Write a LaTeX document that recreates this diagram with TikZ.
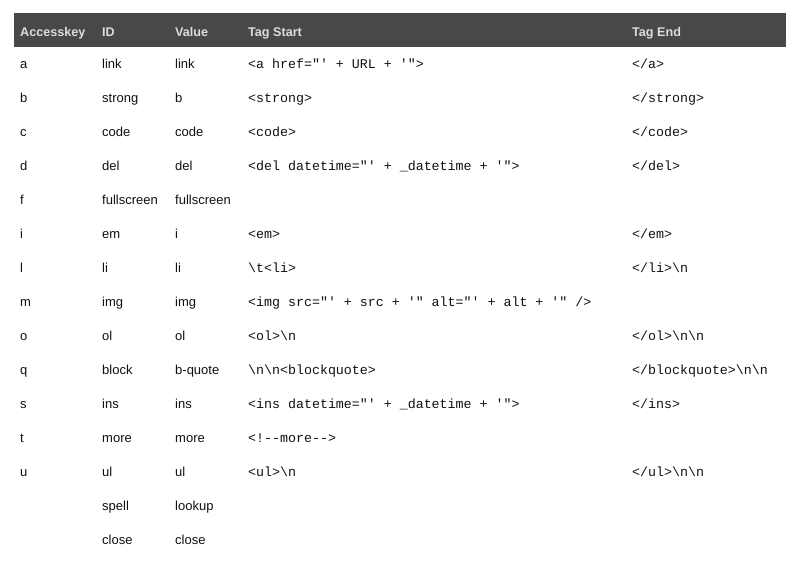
\documentclass[tikz,border=0pt]{standalone}
\usepackage{fontspec}
\setmainfont{Liberation Sans}
\setsansfont{Liberation Sans}
\setmonofont{Liberation Mono}
\definecolor{barcol}{HTML}{484848}
\definecolor{headtxt}{HTML}{DCDCDC}
\definecolor{bodytxt}{HTML}{111111}
\tikzset{
  hdr/.style={anchor=base west, inner sep=0pt, text=headtxt, font=\fontsize{12.6}{14}\selectfont\bfseries},
  cell/.style={anchor=base west, inner sep=0pt, text=bodytxt, font=\fontsize{13}{15}\selectfont},
  code/.style={anchor=base west, inner sep=0pt, text=bodytxt, font=\fontsize{13.3}{15}\selectfont\ttfamily},
}
\newcommand{\bs}{\textbackslash}
\begin{document}
\begin{tikzpicture}[x=1pt,y=-1pt]
\useasboundingbox (0,0) rectangle (801,562);
\fill[white] (0,0) rectangle (801,562);
\fill[barcol] (14,13) rectangle (786,47);
\node[hdr] (h1) at (20,36) {Accesskey};
\node[hdr] (h2) at (102,36) {ID};
\node[hdr] (h3) at (175,36) {Value};
\node[hdr] (h4) at (248,36) {Tag Start};
\node[hdr] (h5) at (632,36) {Tag End};
% row a
\node[cell] (ka) at (20,68) {a};
\node[cell] (ia) at (102,68) {link};
\node[cell] (va) at (175,68) {link};
\node[code] (sa) at (248,68) {<a href="' + URL + '">};
\node[code] (ea) at (632,68) {</a>};
% row b
\node[cell] (kb) at (20,102) {b};
\node[cell] (ib) at (102,102) {strong};
\node[cell] (vb) at (175,102) {b};
\node[code] (sb) at (248,102) {<strong>};
\node[code] (eb) at (632,102) {</strong>};
% row c
\node[cell] (kc) at (20,136) {c};
\node[cell] (ic) at (102,136) {code};
\node[cell] (vc) at (175,136) {code};
\node[code] (sc) at (248,136) {<code>};
\node[code] (ec) at (632,136) {</code>};
% row d
\node[cell] (kd) at (20,170) {d};
\node[cell] (id) at (102,170) {del};
\node[cell] (vd) at (175,170) {del};
\node[code] (sd) at (248,170) {<del datetime="' + \_datetime + '">};
\node[code] (ed) at (632,170) {</del>};
% row f
\node[cell] (kf) at (20,204) {f};
\node[cell] (if) at (102,204) {fullscreen};
\node[cell] (vf) at (175,204) {fullscreen};
% row i
\node[cell] (ki) at (20,238) {i};
\node[cell] (ii) at (102,238) {em};
\node[cell] (vi) at (175,238) {i};
\node[code] (si) at (248,238) {<em>};
\node[code] (ei) at (632,238) {</em>};
% row l
\node[cell] (kl) at (20,272) {l};
\node[cell] (il) at (102,272) {li};
\node[cell] (vl) at (175,272) {li};
\node[code] (sl) at (248,272) {\bs t<li>};
\node[code] (el) at (632,272) {</li>\bs n};
% row m
\node[cell] (km) at (20,306) {m};
\node[cell] (im) at (102,306) {img};
\node[cell] (vm) at (175,306) {img};
\node[code] (sm) at (248,306) {<img src="' + src + '" alt="' + alt + '" />};
% row o
\node[cell] (ko) at (20,340) {o};
\node[cell] (io) at (102,340) {ol};
\node[cell] (vo) at (175,340) {ol};
\node[code] (so) at (248,340) {<ol>\bs n};
\node[code] (eo) at (632,340) {</ol>\bs n\bs n};
% row q
\node[cell] (kq) at (20,374) {q};
\node[cell] (iq) at (102,374) {block};
\node[cell] (vq) at (175,374) {b-quote};
\node[code] (sq) at (248,374) {\bs n\bs n<blockquote>};
\node[code] (eq) at (632,374) {</blockquote>\bs n\bs n};
% row s
\node[cell] (ks) at (20,408) {s};
\node[cell] (is) at (102,408) {ins};
\node[cell] (vs) at (175,408) {ins};
\node[code] (ss) at (248,408) {<ins datetime="' + \_datetime + '">};
\node[code] (es) at (632,408) {</ins>};
% row t
\node[cell] (kt) at (20,442) {t};
\node[cell] (it) at (102,442) {more};
\node[cell] (vt) at (175,442) {more};
\node[code] (st) at (248,442) {<!--more-->};
% row u
\node[cell] (ku) at (20,476) {u};
\node[cell] (iu) at (102,476) {ul};
\node[cell] (vu) at (175,476) {ul};
\node[code] (su) at (248,476) {<ul>\bs n};
\node[code] (eu) at (632,476) {</ul>\bs n\bs n};
% row spell
\node[cell] (ix) at (102,510) {spell};
\node[cell] (vx) at (175,510) {lookup};
% row close
\node[cell] (iy) at (102,544) {close};
\node[cell] (vy) at (175,544) {close};
\end{tikzpicture}
\end{document}
